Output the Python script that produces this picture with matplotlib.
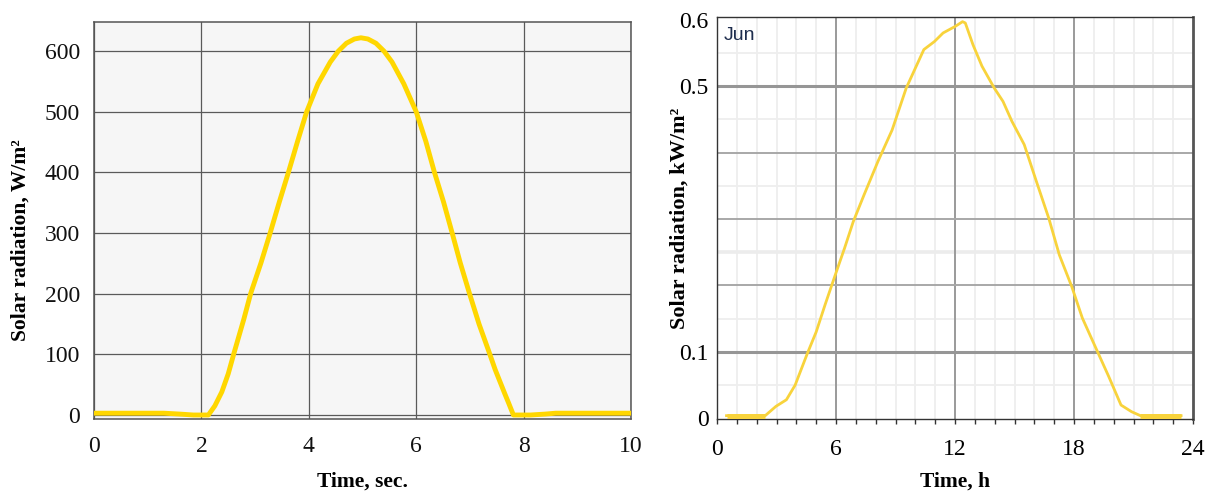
import matplotlib
matplotlib.use('Agg')
import matplotlib.pyplot as plt
import numpy as np

# ---------------- data: left chart ----------------
t_sec = [0, 0.5, 1.0, 1.3, 1.6, 1.85, 2.13, 2.25, 2.38, 2.5, 2.61, 2.79, 2.92,
         3.11, 3.28, 3.45, 3.62, 3.79, 3.96, 4.17, 4.4, 4.55, 4.7, 4.85, 4.97,
         5.1, 5.25, 5.4, 5.55, 5.77, 6.0, 6.18, 6.34, 6.51, 6.67, 6.82, 6.99,
         7.17, 7.36, 7.47, 7.56, 7.65, 7.72, 7.81, 8.13, 8.4, 8.6, 9.0, 10.0]
rad_w = [3, 3, 3, 3, 1.5, 0, 0, 15, 38, 68, 103, 158, 201, 251, 300, 351, 400,
         451, 500, 546, 582, 600, 613, 620, 622, 620, 613, 600, 582, 546, 500,
         451, 400, 351, 300, 251, 201, 150, 103, 75, 55, 35, 20, 0, 0, 1.5, 3,
         3, 3]
left_xticks = [0, 2, 4, 6, 8, 10]
left_yticks = [0, 100, 200, 300, 400, 500, 600]

# ---------------- data: right chart ----------------
t_h = [0.48, 1.5, 2.43, 2.97, 3.5, 3.94, 4.56, 5.0, 5.45, 5.93, 6.43, 6.87, 7.41,
       8.12, 8.83, 9.54, 10.43, 10.96, 11.4, 12.02, 12.38, 12.52, 12.91, 13.36,
       13.98, 14.42, 14.87, 15.49, 16.11, 16.73, 17.26, 17.89, 18.42, 19.22,
       19.75, 20.37, 20.9, 21.35, 22.5, 23.4]
rad_kw = [0.004, 0.004, 0.004, 0.018, 0.028, 0.05, 0.098, 0.13, 0.171, 0.213,
          0.256, 0.296, 0.336, 0.387, 0.434, 0.497, 0.555, 0.567, 0.58, 0.59,
          0.597, 0.595, 0.562, 0.53, 0.497, 0.477, 0.447, 0.412, 0.356, 0.301,
          0.246, 0.198, 0.151, 0.098, 0.063, 0.02, 0.01, 0.004, 0.004, 0.004]
right_xticks = [0, 6, 12, 18, 24]
right_yticks = [0, 0.1, 0.5, 0.6]
right_yticklabels = ['0', '0.1', '0.5', '0.6']
month_label = 'Jun'

plt.rcParams['font.family'] = ['Liberation Serif', 'DejaVu Serif']

fig = plt.figure(figsize=(12.13, 4.94), dpi=100)

# ================= left chart =================
ax1 = fig.add_axes([94 / 1213, 1 - 419 / 494, 537 / 1213, 397 / 494])
ax1.set_facecolor('#f6f6f6')
ax1.plot(t_sec, rad_w, color='#FFD700', lw=3.5, solid_capstyle='round',
         solid_joinstyle='round', zorder=3)
ax1.set_xlim(0, 10)
ax1.set_ylim(-6.6, 648)
ax1.set_xticks(left_xticks)
ax1.set_yticks(left_yticks)
ax1.grid(True, color='#5a5a5a', lw=0.9)
ax1.set_axisbelow(True)
ax1.tick_params(length=0, labelsize=17, colors='#111111')
ax1.tick_params(axis='x', pad=12)
ax1.tick_params(axis='y', pad=10)
for s in ax1.spines.values():
    s.set_color('#555555')
    s.set_linewidth(1.1)
ax1.set_xlabel('Time, sec.', fontsize=15.5, fontweight='bold', labelpad=11)
ax1.set_ylabel('Solar radiation, W/m²', fontsize=15.5, fontweight='bold')
ax1.yaxis.set_label_coords((31 - 94) / 537, 0.45)

# ================= right chart =================
ax2 = fig.add_axes([717 / 1213, 1 - 419 / 494, 476 / 1213, 402 / 494])
ax2.set_facecolor('white')
ax2.set_xlim(0, 24)
ax2.set_ylim(-0.001, 0.604)

# grid lines
for h in range(1, 24):
    if h % 6 != 0:
        ax2.axvline(h, color='#eeeeee', lw=1.3, zorder=1)
for h in [6, 12, 18]:
    ax2.axvline(h, color='#9a9a9a', lw=1.4, zorder=1.5)
for lv in [0.05, 0.15, 0.35, 0.45, 0.55]:
    ax2.axhline(lv, color='#eeeeee', lw=1.3, zorder=1)
ax2.axhline(0.25, color='#ececec', lw=2.6, zorder=1)
for lv in [0.2, 0.3, 0.4]:
    ax2.axhline(lv, color='#a8a8a8', lw=1.4, zorder=1.5)
for lv in [0.1, 0.5]:
    ax2.axhline(lv, color='#969696', lw=2.2, zorder=1.5)

t_arr = np.array(t_h)
r_arr = np.array(rad_kw)
ax2.plot(t_arr, r_arr, color='#F8D33C', lw=2.0, zorder=3)
flat = r_arr <= 0.005
left_run = t_arr < 12
ax2.plot(t_arr[flat & left_run], r_arr[flat & left_run], color='#F8D33C', lw=3.6,
         solid_capstyle='butt', zorder=3)
ax2.plot(t_arr[flat & ~left_run], r_arr[flat & ~left_run], color='#F8D33C', lw=3.6,
         solid_capstyle='butt', zorder=3)

ax2.set_xticks(right_xticks)
ax2.set_xticks(range(0, 25), minor=True)
ax2.set_yticks(right_yticks)
ax2.set_yticklabels(right_yticklabels)
ax2.tick_params(axis='x', which='both', direction='out', length=3.5, width=1,
                color='#333333', labelsize=17, pad=11)
ax2.tick_params(axis='y', length=0, labelsize=17, pad=6)
ax2.spines['left'].set_color('#333333')
ax2.spines['bottom'].set_color('#333333')
ax2.spines['top'].set_color('#333333')
ax2.spines['right'].set_color('#555555')
ax2.spines['right'].set_linewidth(2.0)
for sp in ['left', 'bottom', 'top']:
    ax2.spines[sp].set_linewidth(1.0)

ax2.text(0.014, 0.975, month_label, transform=ax2.transAxes, ha='left', va='top',
         fontsize=14, color='#1e2d4d', family=['Liberation Sans', 'DejaVu Sans'])

ax2.set_xlabel('Time, h', fontsize=15.5, fontweight='bold', labelpad=8)
ax2.set_ylabel('Solar radiation, kW/m²', fontsize=16, fontweight='bold')
ax2.yaxis.set_label_coords((690 - 717) / 476, 0.5)

fig.savefig('out.png', dpi=100)
